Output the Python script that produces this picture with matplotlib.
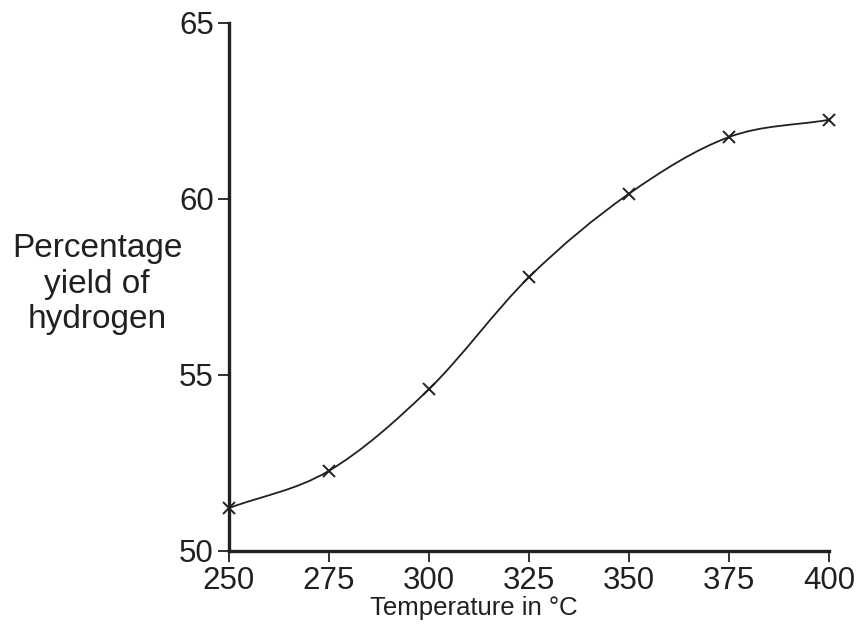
import numpy as np
import matplotlib
matplotlib.use("Agg")
import matplotlib.pyplot as plt
from matplotlib.path import Path
from matplotlib.patches import PathPatch

plt.rcParams['font.family'] = ['Liberation Sans', 'DejaVu Sans']

# data
temperature = [250, 275, 300, 325, 350, 375, 400]
yield_pct = [51.22, 52.28, 54.6, 57.78, 60.15, 61.76, 62.25]
xticks = [250, 275, 300, 325, 350, 375, 400]
yticks = [50, 55, 60, 65]

ink = '#231f20'


def smooth_path(xs, ys, tension=1/6.):
    # Catmull-Rom through the points, as cubic Bezier segments
    xs = np.asarray(xs, float)
    ys = np.asarray(ys, float)
    px = np.concatenate([[2*xs[0] - xs[1]], xs, [2*xs[-1] - xs[-2]]])
    py = np.concatenate([[2*ys[0] - ys[1]], ys, [2*ys[-1] - ys[-2]]])
    verts = [(xs[0], ys[0])]
    codes = [Path.MOVETO]
    for i in range(1, len(px) - 2):
        c1 = (px[i] + (px[i+1] - px[i-1])*tension, py[i] + (py[i+1] - py[i-1])*tension)
        c2 = (px[i+1] - (px[i+2] - px[i])*tension, py[i+1] - (py[i+2] - py[i])*tension)
        verts += [c1, c2, (px[i+1], py[i+1])]
        codes += [Path.CURVE4]*3
    return Path(verts, codes)


fig = plt.figure(figsize=(8.6, 6.26), dpi=100)
ax = fig.add_axes([229/860, 1 - 551/626, 600/860, 528/626])

ax.add_patch(PathPatch(smooth_path(temperature, yield_pct), fill=False,
                       edgecolor=ink, lw=1.3, clip_on=False))
ax.plot(temperature, yield_pct, ls='none', marker='x', ms=8, mew=1.4,
        color=ink, clip_on=False, zorder=3)

ax.set_xlim(250, 400)
ax.set_ylim(50, 65)
ax.set_xticks(xticks)
ax.set_yticks(yticks)

for s in ['top', 'right']:
    ax.spines[s].set_visible(False)
for s in ['left', 'bottom']:
    ax.spines[s].set_linewidth(2.4)
    ax.spines[s].set_color(ink)
    ax.spines[s].set_capstyle('projecting')

ax.tick_params(direction='out', length=8, width=1.3, color=ink,
               labelsize=22.5, labelcolor=ink, pad=3)

ax.set_xlabel('Temperature in °C', fontsize=18.5, color=ink)
ax.xaxis.set_label_coords((474 - 229)/600, -0.086)
ax.set_ylabel('Percentage\nyield of\nhydrogen', fontsize=24, color=ink,
              rotation=0, ha='center', va='center', linespacing=1.2)
ax.yaxis.set_label_coords((97 - 229)/600, (551 - 284)/528)

fig.savefig('out.png', dpi=100)
